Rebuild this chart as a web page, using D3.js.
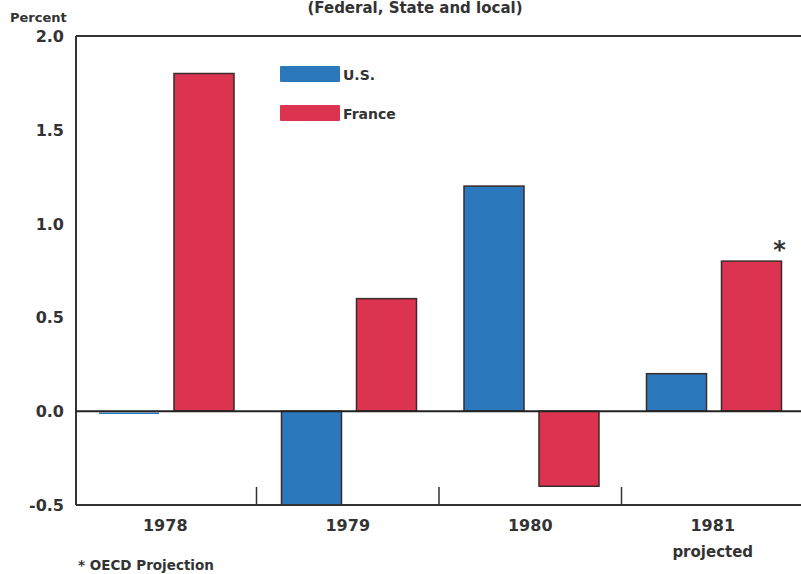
<!DOCTYPE html>
<html>
<head>
<meta charset="utf-8">
<script src="https://cdn.jsdelivr.net/npm/d3@7"></script>
<style>
html,body{margin:0;padding:0;background:#fff;}
svg{display:block;}
text{font-family:"DejaVu Sans","Liberation Sans",Arial,sans-serif;font-weight:bold;fill:#333;}
</style>
</head>
<body>
<script>
const years = ["1978", "1979", "1980", "1981"];
const seriesNames = ["U.S.", "France"];
const usValues = [0.0, -0.5, 1.2, 0.2];
const franceValues = [1.8, 0.6, -0.4, 0.8];
const yTicks = [2.0, 1.5, 1.0, 0.5, 0.0, -0.5];
const colors = ["#2b78bd", "#dc3450"];

(function () {
const W = 801, H = 574;
const svg = d3.select("body").append("svg").attr("width", W).attr("height", H);

const pLeft = 76, pTop = 36, pBottom = 505;
const y = d3.scaleLinear().domain([-0.5, 2.0]).range([pBottom, pTop]);
const x0 = d3.scaleBand().domain(years).range([74, 804]).padding(0);
const x1 = d3.scaleBand().domain(seriesNames).range([25, 160]).paddingInner(0.2).paddingOuter(0);

// title (near top)
svg.append("text").attr("x", 415).attr("y", 13).attr("text-anchor", "middle")
  .style("font-size", "15px").text("(Federal, State and local)");

// Percent label
svg.append("text").attr("x", 10).attr("y", 22).style("font-size", "13px").text("Percent");

// y tick labels
svg.selectAll(".ylab").data(yTicks).enter().append("text")
  .attr("x", 64).attr("y", d => y(d) + 6).attr("text-anchor", "end")
  .style("font-size", "16px")
  .text(d => d3.format(".1f")(d).replace("\u2212", "-"));

// bars
const rows = years.map((yr, i) => ({year: yr, vals: [usValues[i], franceValues[i]]}));
const g = svg.selectAll(".grp").data(rows).enter().append("g")
  .attr("transform", d => `translate(${x0(d.year)},0)`);
g.selectAll("rect").data(d => d.vals.map((v, j) => ({v, s: seriesNames[j], j})))
  .enter().append("rect")
  .attr("x", d => x1(d.s))
  .attr("width", x1.bandwidth())
  .attr("y", d => Math.min(y(d.v), y(0)))
  .attr("height", d => Math.abs(y(d.v) - y(0)))
  .attr("fill", d => colors[d.j])
  .attr("stroke", "#3a2a2a").attr("stroke-width", 1.5);

// zero-value US bar shown as thin blue line
svg.append("line").attr("x1", x0("1978") + x1("U.S.")).attr("x2", x0("1978") + x1("U.S.") + x1.bandwidth())
  .attr("y1", y(0) + 2).attr("y2", y(0) + 2).attr("stroke", colors[0]).attr("stroke-width", 1.5);

// frame lines
svg.append("line").attr("x1", pLeft).attr("x2", W).attr("y1", pTop).attr("y2", pTop).attr("stroke", "#333").attr("stroke-width", 2);
svg.append("line").attr("x1", pLeft).attr("x2", pLeft).attr("y1", pTop).attr("y2", pBottom).attr("stroke", "#333").attr("stroke-width", 2);
svg.append("line").attr("x1", pLeft).attr("x2", W).attr("y1", pBottom).attr("y2", pBottom).attr("stroke", "#333").attr("stroke-width", 2);
svg.append("line").attr("x1", pLeft).attr("x2", W).attr("y1", y(0)).attr("y2", y(0)).attr("stroke", "#222").attr("stroke-width", 2);

// bottom category divider ticks
svg.selectAll(".tk").data(years.slice(1)).enter().append("line")
  .attr("x1", d => x0(d)).attr("x2", d => x0(d))
  .attr("y1", pBottom - 18).attr("y2", pBottom)
  .attr("stroke", "#333").attr("stroke-width", 1.5);

// x labels
svg.selectAll(".xlab").data(years).enter().append("text")
  .attr("x", d => x0(d) + x0.bandwidth() / 2).attr("y", 531)
  .attr("text-anchor", "middle").style("font-size", "16px").text(d => d);
svg.append("text").attr("x", x0("1981") + x0.bandwidth() / 2).attr("y", 557)
  .attr("text-anchor", "middle").style("font-size", "15px").text("projected");

// asterisk
svg.append("text").attr("x", x0("1981") + x1("France") + x1.bandwidth() - 2).attr("y", 258)
  .attr("text-anchor", "middle").style("font-size", "24px").text("*");

// legend
seriesNames.forEach((s, i) => {
  const ly = 66 + i * 39;
  svg.append("rect").attr("x", 280).attr("y", ly).attr("width", 60).attr("height", 16)
    .attr("fill", colors[i]).attr("rx", 1);
  svg.append("text").attr("x", 343).attr("y", ly + 14).style("font-size", "14px").text(s);
});

// footnote
svg.append("text").attr("x", 78).attr("y", 570).style("font-size", "13.5px").text("* OECD Projection");
})();
</script>
</body>
</html>
